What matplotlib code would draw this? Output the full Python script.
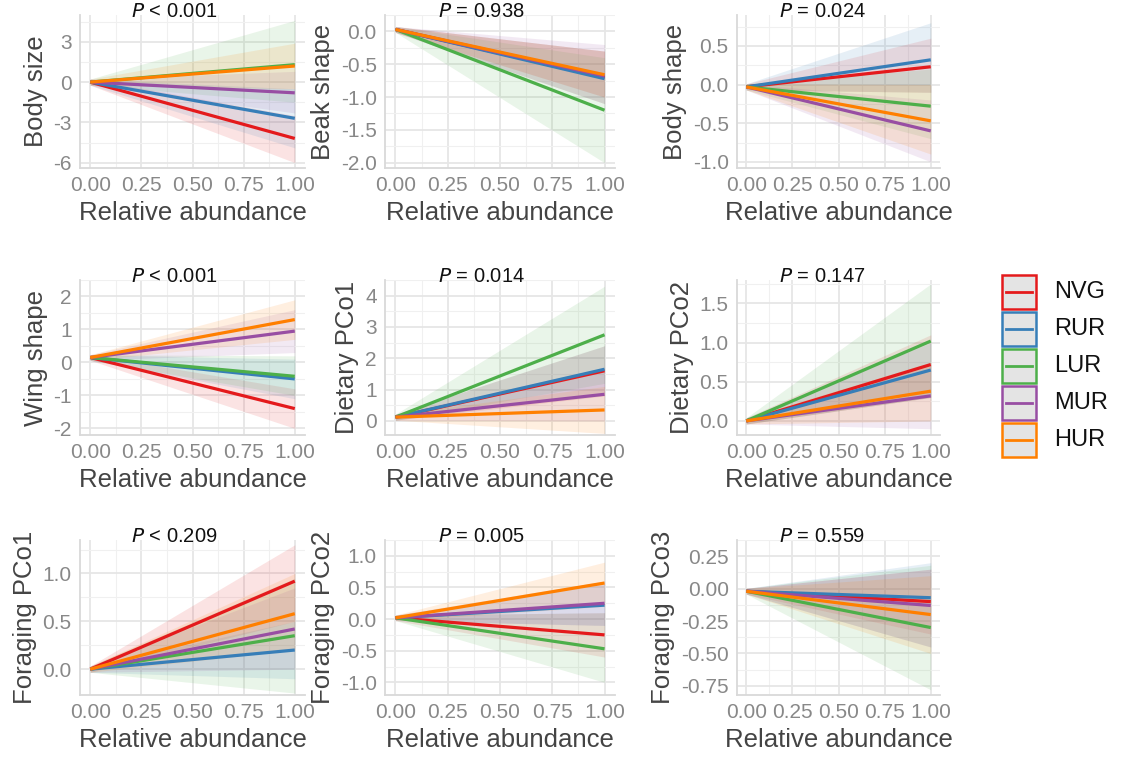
import matplotlib
matplotlib.use('Agg')
import matplotlib.pyplot as plt
from matplotlib.patches import Rectangle
from matplotlib.lines import Line2D
import numpy as np

plt.rcParams['font.family'] = ['Liberation Sans', 'DejaVu Sans']

groups = ['NVG', 'RUR', 'LUR', 'MUR', 'HUR']
colors = ['#E41A1C', '#377EB8', '#4DAF4A', '#984EA3', '#FF7F00']

ylabels = ['Body size', 'Beak shape', 'Body shape',
           'Wing shape', 'Dietary PCo1', 'Dietary PCo2',
           'Foraging PCo1', 'Foraging PCo2', 'Foraging PCo3']
ptexts = ['< 0.001', '= 0.938', '= 0.024',
          '< 0.001', '= 0.014', '= 0.147',
          '< 0.209', '= 0.005', '= 0.559']
starts = [0, 0.03, -0.03, 0.15, 0.12, 0.0, 0.0, 0.02, -0.02]
# fitted value at x=1 per group (NVG, RUR, LUR, MUR, HUR)
ends = [[-4.2, -2.7, 1.3, -0.8, 1.2],
        [-0.7, -0.72, -1.2, -0.68, -0.66],
        [0.23, 0.32, -0.28, -0.6, -0.47],
        [-1.4, -0.5, -0.42, 0.95, 1.3],
        [1.6, 1.65, 2.75, 0.85, 0.35],
        [0.72, 0.65, 1.02, 0.32, 0.38],
        [0.92, 0.2, 0.35, 0.42, 0.58],
        [-0.25, 0.22, -0.47, 0.25, 0.57],
        [-0.1, -0.07, -0.3, -0.13, -0.2]]
lows = [[-6.0, -4.9, -1.5, -2.3, -0.5],
        [-1.1, -1.1, -2.0, -1.0, -1.0],
        [-0.1, -0.1, -0.7, -1.0, -0.9],
        [-2.0, -1.1, -1.0, 0.3, 0.7],
        [0.8, 0.9, 1.2, 0.0, -0.4],
        [0.3, 0.3, 0.3, -0.1, 0.0],
        [0.5, -0.1, -0.25, 0.0, 0.2],
        [-0.6, -0.1, -1.0, -0.1, 0.2],
        [-0.35, -0.45, -0.78, -0.45, -0.5]]
highs = [[-2.5, -0.5, 4.6, 0.8, 2.9],
         [-0.3, -0.3, -0.4, -0.2, -0.3],
         [0.6, 0.8, 0.2, -0.2, 0.0],
         [-0.8, 0.1, 0.2, 1.6, 1.9],
         [2.4, 2.4, 4.3, 1.7, 1.1],
         [1.1, 1.0, 1.75, 0.7, 0.75],
         [1.3, 0.5, 0.95, 0.85, 1.0],
         [0.1, 0.55, 0.1, 0.6, 0.9],
         [0.15, 0.2, 0.18, 0.15, 0.1]]
ylims = [(-6.4, 5.0), (-2.08, 0.15), (-1.08, 0.9),
         (-2.2, 2.05), (-0.45, 4.4), (-0.18, 1.8),
         (-0.27, 1.35), (-1.2, 1.0), (-0.82, 0.28)]
yticks = [[-6, -3, 0, 3], [-2.0, -1.5, -1.0, -0.5, 0.0], [-1.0, -0.5, 0.0, 0.5],
          [-2, -1, 0, 1, 2], [0, 1, 2, 3, 4], [0.0, 0.5, 1.0, 1.5],
          [0.0, 0.5, 1.0], [-1.0, -0.5, 0.0, 0.5, 1.0], [-0.75, -0.5, -0.25, 0.0, 0.25]]
ytickfmt = ['{:.0f}', '{:.1f}', '{:.1f}', '{:.0f}', '{:.0f}', '{:.1f}', '{:.1f}', '{:.1f}', '{:.2f}']

W, H = 1126, 774
fig = plt.figure(figsize=(W / 100, H / 100), dpi=100)
colx = [(80, 305), (385, 615), (737, 940)]
rowy = [(15, 168), (280, 435), (540, 695)]
xs = np.array([0.0, 1.0])

for i in range(9):
    r, c = divmod(i, 3)
    x0, x1 = colx[c]
    y0, y1 = rowy[r]
    ax = fig.add_axes([x0 / W, 1 - y1 / H, (x1 - x0) / W, (y1 - y0) / H])
    for g in range(5):
        s = starts[i]
        ax.fill_between(xs, [s - 0.02 * (ylims[i][1] - ylims[i][0]), lows[i][g]],
                        [s + 0.02 * (ylims[i][1] - ylims[i][0]), highs[i][g]],
                        color=colors[g], alpha=0.12, lw=0)
    for g in range(5):
        ax.plot(xs, [starts[i], ends[i][g]], color=colors[g], lw=2.3, solid_capstyle='butt')
    ax.set_xlim(-0.05, 1.05)
    ax.set_ylim(*ylims[i])
    ax.set_xticks([0, 0.25, 0.5, 0.75, 1.0])
    ax.set_xticklabels(['0.00', '0.25', '0.50', '0.75', '1.00'])
    ax.set_xticks([0.125, 0.375, 0.625, 0.875], minor=True)
    ax.set_yticks(yticks[i])
    ax.set_yticklabels([ytickfmt[i].format(v) for v in yticks[i]])
    yt = yticks[i]
    step = yt[1] - yt[0]
    ax.set_yticks([v + step / 2 for v in yt], minor=True)
    ax.grid(True, which='major', color='#e6e6e6', lw=1.3)
    ax.grid(True, which='minor', color='#f0f0f0', lw=0.8)
    ax.set_axisbelow(True)
    for sp in ['top', 'right']:
        ax.spines[sp].set_visible(False)
    for sp in ['left', 'bottom']:
        ax.spines[sp].set_color('#d9d9d9')
        ax.spines[sp].set_linewidth(1.3)
    ax.tick_params(which='both', length=0, labelsize=15, labelcolor='#888888', pad=6)
    ax.set_xlabel('Relative abundance', fontsize=18.5, color='#444444', labelpad=4)
    ax.set_ylabel(ylabels[i], fontsize=18.5, color='#444444', labelpad=4)
    ax.text(0.42, 1.02, '$P$ ' + ptexts[i], transform=ax.transAxes, ha='center',
            va='center', fontsize=14.5, color='#111111')

# legend
lx, ly0, bw, bh = 1002, 275, 34, 34
for g in range(5):
    y = ly0 + g * 37
    fig.patches.append(Rectangle((lx / W, 1 - (y + bh) / H), bw / W, bh / H,
                                 transform=fig.transFigure, facecolor='#e4e4e4',
                                 edgecolor=colors[g], lw=1.8))
    fig.lines.append(Line2D([(lx + 4) / W, (lx + bw - 4) / W],
                            [1 - (y + bh / 2) / H] * 2, transform=fig.transFigure,
                            color=colors[g], lw=2))
    fig.text((lx + bw + 18) / W, 1 - (y + bh / 2) / H, groups[g], fontsize=17,
             va='center', ha='left', color='#111111')

fig.savefig('out.png', dpi=100)
